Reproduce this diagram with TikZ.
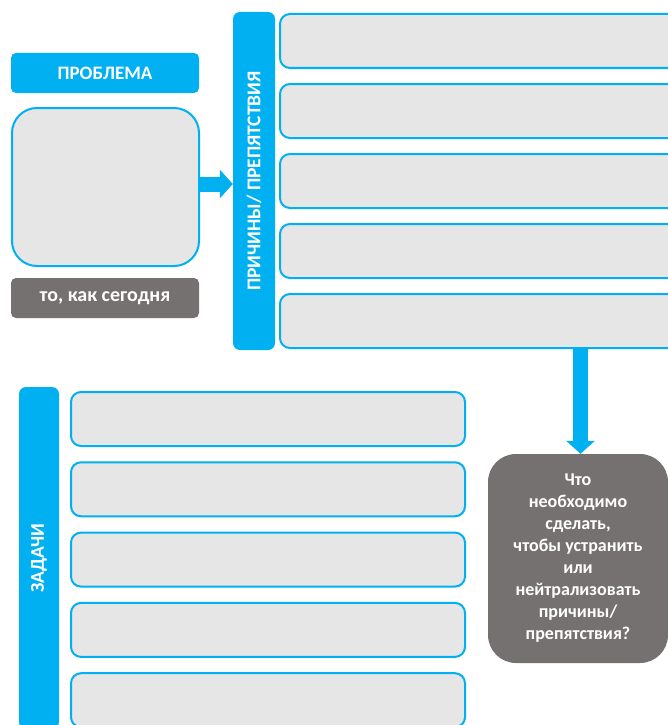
\documentclass[tikz,border=0pt]{standalone}
\usepackage{fontspec}
\setmainfont{Carlito}
\usetikzlibrary{positioning, arrows.meta}

\definecolor{skyblue}{HTML}{00B0F0}
\definecolor{cellgray}{HTML}{E6E6E6}
\definecolor{slate}{HTML}{767171}

\tikzstyle{head} = [rectangle, rounded corners = 5pt, fill = skyblue, text = white, inner sep = 0pt,
    font = \bfseries\fontsize{19}{22}\selectfont, minimum width = 188pt, minimum height = 40pt]
\tikzstyle{note} = [head, fill = slate, font = \bfseries\fontsize{20}{22}\selectfont]
\tikzstyle{bar} = [rectangle, rounded corners = 7pt, fill = skyblue, text = white, inner sep = 0pt,
    font = \bfseries\fontsize{19.5}{22}\selectfont, rotate = 90]
\tikzstyle{cell} = [rectangle, rounded corners = 10pt, draw = skyblue, line width = 2pt, fill = cellgray,
    inner sep = 0pt, minimum height = 54pt]
\tikzstyle{fat} = [draw = skyblue, line width = 15pt, -{Triangle[length = 13pt, width = 28pt]}]

\begin{document}
\begin{tikzpicture}[x = 1pt, y = -1pt]
        \def\gap{14pt}
        \useasboundingbox (0, 0) rectangle (668, 725);
        \clip (0, 0) rectangle (668, 725);

        \node[head] (prob) at (105, 73) {ПРОБЛЕМА};
        \node[cell, rounded corners = 25pt, minimum width = 187pt, minimum height = 158pt] (probbox) at (105.5, 187) {};
        \node[note] (today) at (105, 298) {то, как сегодня};

        \node[bar, minimum width = 338pt, minimum height = 42pt] (causes) at (254, 181) {ПРИЧИНЫ/ ПРЕПЯТСТВИЯ};

        \node[cell, minimum width = 418pt, anchor = north west] (c1) at (279, 13) {};
        \node at (c1.south) [cell, minimum width = 418pt, below = \gap] (c2) {};
        \node at (c2.south) [cell, minimum width = 418pt, below = \gap] (c3) {};
        \node at (c3.south) [cell, minimum width = 418pt, below = \gap] (c4) {};
        \node at (c4.south) [cell, minimum width = 418pt, below = \gap] (c5) {};

        \node[rectangle, rounded corners = 28pt, fill = slate, text = white, align = center,
            font = \bfseries\fontsize{18}{22}\selectfont, minimum width = 180pt, minimum height = 209pt]
            (question) at (578, 558.5) {Что\\необходимо\\сделать,\\чтобы устранить\\или\\нейтрализовать\\причины/\\препятствия?};

        \node[bar, minimum width = 342pt, minimum height = 40pt] (tasks) at (39, 558) {ЗАДАЧИ};

        \node[cell, minimum width = 394pt, anchor = north west] (t1) at (70, 391) {};
        \node at (t1.south) [cell, minimum width = 394pt, below = 14.3pt] (t2) {};
        \node at (t2.south) [cell, minimum width = 394pt, below = 14.3pt] (t3) {};
        \node at (t3.south) [cell, minimum width = 394pt, below = 14.3pt] (t4) {};
        \node at (t4.south) [cell, minimum width = 394pt, below = 14.3pt] (t5) {};

        \path[fat] ([yshift = 3pt]probbox.east) -- ([yshift = 3pt]probbox.east -| causes.north);
        \path[fat] ([xshift = 2.5pt]c5.south -| question.north) -- ([xshift = 2.5pt]question.north);
    \end{tikzpicture}
\end{document}
